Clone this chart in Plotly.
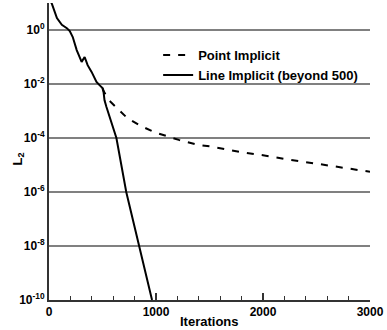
import plotly.graph_objects as go

# Line Implicit (beyond 500) - solid
line_iter = [0, 14, 28, 74, 120, 167, 194, 222, 259, 305, 333, 361, 398, 444, 472, 500, 510, 519, 537, 580, 630, 722, 843, 963]
line_l2 = [25.0, 12.0, 9.12, 2.75, 1.55, 1.17, 0.91, 0.55, 0.18, 0.066, 0.10, 0.05, 0.028, 0.012, 0.0091, 0.0071,
           0.005, 0.0025, 0.0014, 4.0e-4, 1.0e-4, 1.0e-6, 1.0e-8, 1.0e-10]

# Point Implicit - dashed
point_iter = [500, 519, 560, 630, 731, 843, 981, 1213, 1398, 1519, 1796, 2000, 2250, 2500, 2926, 3000]
point_l2 = [7.1e-3, 4.7e-3, 2.5e-3, 1.3e-3, 5.5e-4, 3.0e-4, 1.66e-4, 8.5e-5, 5.5e-5, 4.8e-5, 3.0e-5,
            2.3e-5, 1.55e-5, 1.12e-5, 6.2e-6, 5.6e-6]

y_tickvals = [1e0, 1e-2, 1e-4, 1e-6, 1e-8, 1e-10]
y_ticktext = ["10<sup>0</sup>", "10<sup>-2</sup>", "10<sup>-4</sup>", "10<sup>-6</sup>", "10<sup>-8</sup>", "10<sup>-10</sup>"]
x_tickvals = [0, 1000, 2000, 3000]

FONT = "Liberation Sans"

fig = go.Figure()
fig.add_trace(go.Scatter(x=point_iter, y=point_l2, mode="lines", name="<b>Point Implicit</b>",
                         line=dict(color="black", width=2, dash="7px,8px")))
fig.add_trace(go.Scatter(x=line_iter, y=line_l2, mode="lines", name="<b>Line Implicit (beyond 500)</b>",
                         line=dict(color="black", width=2)))

fig.update_layout(
    width=387, height=330,
    margin=dict(l=49, r=14, t=3, b=30),
    paper_bgcolor="white", plot_bgcolor="white",
    font=dict(family=FONT, color="black", size=12),
    showlegend=True,
    legend=dict(x=0.34, y=0.875, xanchor="left", yanchor="top", bgcolor="rgba(0,0,0,0)",
                font=dict(size=13, family=FONT, color="black"), tracegroupgap=0),
    xaxis=dict(range=[0, 3000], tickvals=x_tickvals, ticktext=["<b>%d</b>" % v for v in x_tickvals],
               showgrid=False, zeroline=False, showline=True, linecolor="#333333", linewidth=2,
               ticks="inside", ticklen=7, tickwidth=1.5, tickcolor="#333333",
               minor=dict(dtick=200, ticks="inside", ticklen=4, tickwidth=1, tickcolor="#333333", showgrid=False),
               tickfont=dict(size=12, family=FONT)),
    yaxis=dict(type="log", range=[-10, 1], tickvals=y_tickvals,
               ticktext=["<b>%s</b>" % t for t in y_ticktext],
               showgrid=True, gridcolor="#808080", gridwidth=1.5, zeroline=False,
               showline=True, linecolor="#333333", linewidth=2, ticks="",
               tickfont=dict(size=12, family=FONT)),
    annotations=[
        dict(text="<b>Iterations</b>", xref="paper", yref="paper", x=0.5, y=-0.073,
             xanchor="center", yanchor="middle", showarrow=False, font=dict(size=13, family=FONT)),
        dict(text="<b>L<sub>2</sub></b>", xref="paper", yref="paper", x=-0.095, y=0.475,
             xanchor="center", yanchor="middle", textangle=-90, showarrow=False, font=dict(size=13, family=FONT)),
    ],
)

fig.write_html("out.html")
